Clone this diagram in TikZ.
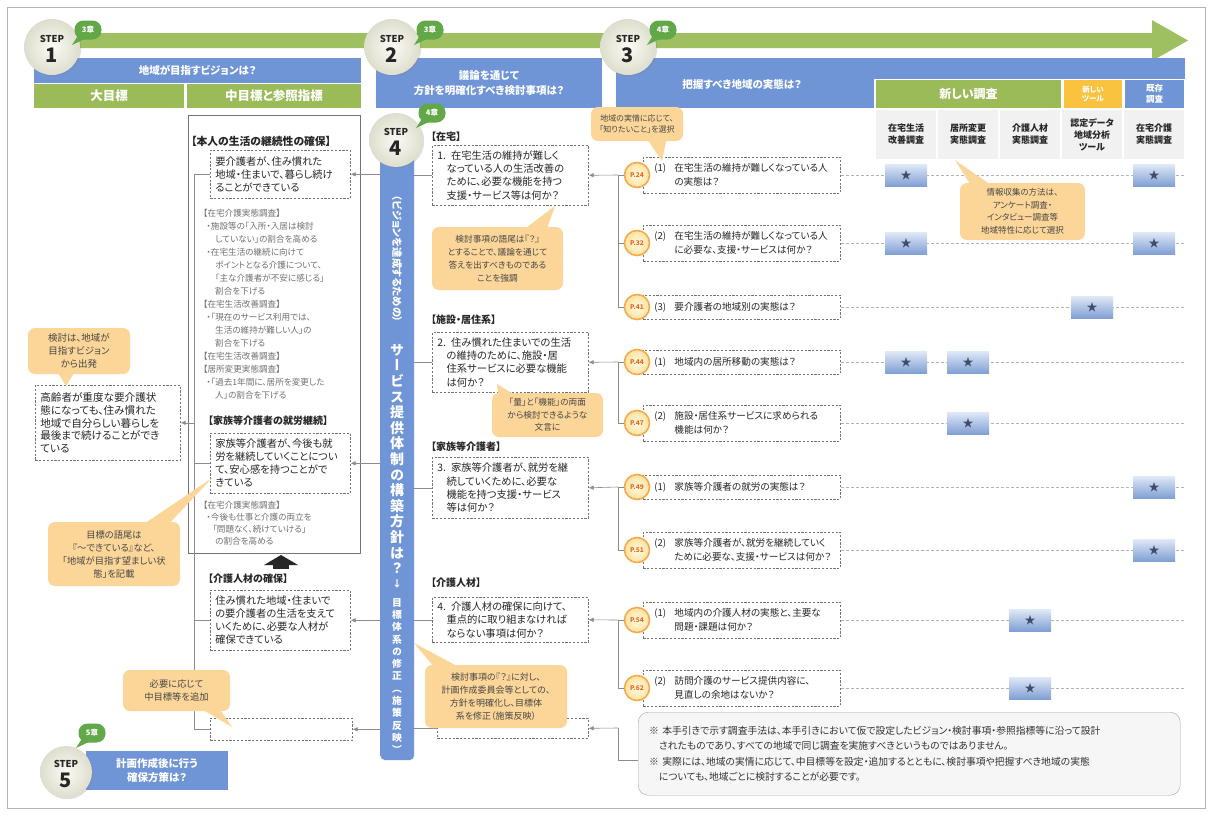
\documentclass[tikz,border=0pt]{standalone}
\usepackage{fontspec}
\setmainfont[RawFeature=+palt]{Noto Sans CJK JP}
\newfontfamily\vertfont[RawFeature=+vert]{Noto Sans CJK JP}
\usetikzlibrary{arrows.meta,shadows}

\definecolor{hdrblue}{RGB}{111,149,214}
\definecolor{hdrgreen}{RGB}{155,187,89}
\definecolor{bandgreen}{RGB}{158,192,96}
\definecolor{tooly}{RGB}{249,195,64}
\definecolor{calloutfill}{RGB}{252,214,152}
\definecolor{framegray}{RGB}{180,180,180}
\definecolor{chapgreen}{RGB}{98,168,72}
\definecolor{stepin}{RGB}{250,250,244}
\definecolor{stepout}{RGB}{222,222,206}
\definecolor{badgeline}{RGB}{246,170,78}
\definecolor{badgein}{RGB}{255,250,225}
\definecolor{badgeout}{RGB}{253,226,160}
\definecolor{badgetext}{RGB}{232,104,34}
\definecolor{startop}{RGB}{224,233,247}
\definecolor{starbot}{RGB}{128,160,212}
\definecolor{stardark}{RGB}{66,76,106}
\definecolor{txtgray}{RGB}{112,112,112}
\definecolor{colgray}{RGB}{241,241,241}
\definecolor{notefill}{RGB}{246,246,246}

% characters stacked one per line (vertical writing)
\makeatletter
\newcommand\vstackchars[2]{\vbox{\baselineskip=#1\relax\lineskiplimit=-100pt\lineskip=0pt
  \@tfor\vs@c:=#2\do{\hbox to 2em{\hss\vs@c\hss}}}}
\makeatother
\newcommand\qnum[1]{\makebox[2.1em][l]{#1}}
\newcommand\qind{\hspace*{2.1em}}

\tikzset{
  pframe/.style={draw=framegray, line width=0.5pt, double=white, double distance=1.8pt},
  bluehdr/.style={fill=hdrblue, text=white, inner sep=0pt, align=center, font=\bfseries\fontsize{10.5}{15}\selectfont},
  greenhdr/.style={fill=hdrgreen, text=white, inner sep=0pt, align=center, font=\bfseries\fontsize{12.5}{15}\selectfont},
  dbox/.style={draw=black!55, dash pattern=on 2.2pt off 1.6pt, line width=0.6pt, fill=white, inner xsep=5pt, inner ysep=0pt, align=left, anchor=north west, text=black!85},
  graytxt/.style={text=txtgray, align=left, anchor=north west, inner sep=0pt, font=\fontsize{8.6}{13}\selectfont},
  ttl/.style={anchor=west, inner sep=0pt, text=black!85, font=\bfseries\fontsize{10}{12}\selectfont},
  callbox/.style={fill=calloutfill, rounded corners=7pt, align=center, inner sep=0pt, text=black!72},
  link/.style={draw=black!45, line width=0.6pt},
  arr/.style={link, -{Latex[length=5pt,width=4.5pt]}},
  stepc/.style={circle, minimum size=#1, inner sep=0pt, inner color=stepin, outer color=stepout,
    drop shadow={opacity=0.25, shadow xshift=1.2pt, shadow yshift=-1.2pt}},
  steptxt/.style={inner sep=0pt, text=black!85, font=\bfseries\fontsize{9.5}{10}\selectfont},
  stepnum/.style={inner sep=0pt, text=black!85, font=\bfseries\fontsize{20}{20}\selectfont},
  chapbub/.style={fill=chapgreen, text=white, rounded corners=9pt, minimum width=27pt, minimum height=19pt, inner sep=0pt, font=\bfseries\fontsize{7.5}{8}\selectfont},
  starbox/.style={minimum width=42pt, minimum height=22pt, inner sep=0pt, top color=startop, bottom color=starbot, text=stardark, font=\fontsize{11}{11}\selectfont},
  badge/.style={circle, minimum size=25pt, inner sep=0pt, draw=badgeline, line width=1.6pt, inner color=badgein, outer color=badgeout, text=badgetext, font=\bfseries\fontsize{6.5}{7}\selectfont},
  rowq/.style={dbox, anchor=west, minimum width=197pt, text width=175pt, inner xsep=11pt, font=\fontsize{9.6}{13.5}\selectfont},
  rowline/.style={draw=black!30, dash pattern=on 3pt off 2pt, line width=0.5pt},
  colh/.style={fill=colgray, draw=white, line width=1.5pt, minimum width=62pt, minimum height=51pt, inner sep=0pt, align=center, text=black!85, font=\bfseries\fontsize{9}{12}\selectfont},
  notebox/.style={fill=notefill, draw=black!35, rounded corners=10pt, anchor=north west, minimum width=542pt, minimum height=83pt, text width=520pt, inner xsep=11pt, align=left, text=black!80, font=\fontsize{9.8}{15.5}\selectfont},
}

\newcommand\stepmark[5]{%
  \node[stepc=#4] (#1) at (#2,#3) {};
  \node[steptxt] (#1t) at (#2,#3-8) {STEP};
  \node[stepnum] (#1n) at (#2,#3+8) {#5};}
\newcommand\chapmark[4]{%
  \fill[chapgreen] (#2-9,#3+4) -- (#2-16,#3+15) -- (#2-1,#3+8) -- cycle;
  \node[chapbub] (#1) at (#2,#3) {#4};}
\newcommand\qrow[6]{%
  \node[rowq, minimum height=#6pt] (#1) at (643,#2) {\qnum{#4}#5};
  \draw[rowline] (#1.east) -- (1185,#2);
  \node[badge] (#1p) at (637,#2) {#3};}

\begin{document}
\begin{tikzpicture}[x=1pt,y=-1pt]
\useasboundingbox (0,0) rectangle (1212,814);
\fill[white] (0,0) rectangle (1212,814);
\draw[framegray, line width=0.8pt] (7,7) rectangle (1205,808);

% ---------- the three panels ----------
\draw[pframe] (29,54) rectangle (366,804);
\draw[pframe] (371,54) rectangle (607,804);
\draw[pframe] (612,54) rectangle (1189,804);

% progress band
\fill[bandgreen] (60,33) -- (1152,33) -- (1152,20) -- (1188,40.5) -- (1152,61) -- (1152,48) -- (60,48) -- cycle;

% ---------- panel 1 : vision ----------
\node[bluehdr, minimum width=327pt, minimum height=25pt] (h1) at (197.5,70.5) {地域が目指すビジョンは？};
\node[greenhdr, minimum width=150pt, minimum height=24pt] (h1a) at (109,96) {大目標};
\node[greenhdr, minimum width=174pt, minimum height=24pt] (h1b) at (274,96) {中目標と参照指標};

\node[draw=black!55, line width=0.7pt, anchor=north west, minimum width=172pt, minimum height=438pt, inner sep=0pt] (midframe) at (188,115) {};

\node[ttl, font=\bfseries\fontsize{10.8}{12}\selectfont] (t1) at (191,141) {【本人の生活の継続性の確保】};
\node[dbox, minimum width=140pt, minimum height=48pt, text width=130pt, font=\fontsize{10.3}{12.8}\selectfont] (g1) at (210,150)
  {要介護者が、住み慣れた\\地域・住まいで、暮らし続け\\ることができている};
\node[graytxt] (ref1) at (203,209) {【在宅介護実態調査】\\
\hspace*{0.4em}・施設等の「入所・入居は検討\\
\hspace*{1.4em}していない」の割合を高める\\
\hspace*{0.4em}・在宅生活の継続に向けて\\
\hspace*{1.4em}ポイントとなる介護について、\\
\hspace*{1.4em}「主な介護者が不安に感じる」\\
\hspace*{1.4em}割合を下げる\\
【在宅生活改善調査】\\
\hspace*{0.4em}・「現在のサービス利用では、\\
\hspace*{1.4em}生活の維持が難しい人」の\\
\hspace*{1.4em}割合を下げる\\
【在宅生活改善調査】\\
【居所変更実態調査】\\
\hspace*{0.4em}・「過去1年間に、居所を変更した\\
\hspace*{1.4em}人」の割合を下げる};

\node[ttl] (t2) at (208,421) {【家族等介護者の就労継続】};
\node[dbox, minimum width=140pt, minimum height=60pt, text width=130pt, font=\fontsize{10.3}{13}\selectfont] (g2) at (210,433)
  {家族等介護者が、今後も就\\労を継続していくことについ\\て、安心感を持つことがで\\きている};
\node[graytxt, font=\fontsize{8.6}{12}\selectfont] (ref2) at (203,501) {【在宅介護実態調査】\\
\hspace*{0.4em}・今後も仕事と介護の両立を\\
\hspace*{1.1em}「問題なく、続けていける」\\
\hspace*{1.4em}の割合を高める};

% block arrow between goals
\fill[black!85] (264,565) -- (281,555) -- (298,565) -- cycle;
\fill[black!85] (273,564) rectangle (289,569);

\node[ttl] (t3) at (208,579) {【介護人材の確保】};
\node[dbox, minimum width=140pt, minimum height=60pt, text width=130pt, font=\fontsize{10.3}{13}\selectfont] (g3) at (210,590)
  {住み慣れた地域・住まいで\\の要介護者の生活を支えて\\いくために、必要な人材が\\確保できている};
\node[dbox, minimum width=142pt, minimum height=22pt] (g4) at (210,718) {};

\node[dbox, minimum width=145pt, minimum height=75pt, text width=135pt, font=\fontsize{10.6}{12.8}\selectfont] (l1) at (35,385)
  {高齢者が重度な要介護状\\態になっても、住み慣れた\\地域で自分らしい暮らしを\\最後まで続けることができ\\ている};

% goal tree
\coordinate (ltTop) at (194,174);
\coordinate (ltBot) at (194,729);
\draw[link] (ltTop) -- (ltBot);
\draw[link] (g1.west -| ltTop) -- (g1.west);
\draw[link] (g2.west -| ltTop) -- (g2.west);
\draw[link] (g3.west -| ltTop) -- (g3.west);
\draw[link] (g4.west -| ltTop) -- (g4.west);
\draw[arr] (ltTop |- l1.east) -- (l1.east);

% step 5
\node[bluehdr, minimum width=142pt, minimum height=39pt, font=\bfseries\fontsize{10.5}{14}\selectfont] (h5) at (157,770.5) {計画作成後に行う\\確保方策は？};

% ---------- panel 2 : issues ----------
\node[bluehdr, minimum width=226pt, minimum height=50pt] (h2) at (489,83) {議論を通じて\\方針を明確化すべき検討事項は？};
\node[fill=hdrblue, rounded corners=5pt, anchor=north west, minimum width=34pt, minimum height=610pt, inner sep=0pt] (bar) at (380,150) {};
\node[text=white, inner sep=0pt, rotate=-90, font=\bfseries\fontsize{10.3}{11}\selectfont] (bart1) at (397,259) {（ビジョンを達成するための）};
\node[text=white, inner sep=0pt, font=\vertfont\bfseries\fontsize{14}{15}\selectfont] (bart2) at (397,459) {\vstackchars{15.6pt}{サービス提供体制の構築方針は？}};
\node[text=white, inner sep=0pt, font=\vertfont\bfseries\fontsize{9.5}{11}\selectfont] (bart3) at (397,584) {↓};
\node[text=white, inner sep=0pt, font=\vertfont\bfseries\fontsize{9.8}{11}\selectfont] (bart4) at (397,676) {\vstackchars{12.3pt}{目標体系の修正（施策反映）}};

\node[ttl] (c1) at (431,137) {【在宅】};
\node[dbox, minimum width=156pt, minimum height=60pt, text width=146pt, font=\fontsize{10.3}{13.3}\selectfont] (q1) at (432,145)
  {1. 在宅生活の維持が難しく\\\hspace*{0.9em}なっている人の生活改善の\\\hspace*{0.9em}ために、必要な機能を持つ\\\hspace*{0.9em}支援・サービス等は何か？};
\node[ttl] (c2) at (431,320) {【施設・居住系】};
\node[dbox, minimum width=156pt, minimum height=60pt, text width=146pt, font=\fontsize{10.3}{13.3}\selectfont] (q2) at (432,332)
  {2. 住み慣れた住まいでの生活\\\hspace*{0.9em}の維持のために、施設・居\\\hspace*{0.9em}住系サービスに必要な機能\\\hspace*{0.9em}は何か？};
\node[ttl] (c3) at (431,447) {【家族等介護者】};
\node[dbox, minimum width=156pt, minimum height=61pt, text width=146pt, font=\fontsize{10.3}{13.3}\selectfont] (q3) at (432,457)
  {3. 家族等介護者が、就労を継\\\hspace*{0.9em}続していくために、必要な\\\hspace*{0.9em}機能を持つ支援・サービス\\\hspace*{0.9em}等は何か？};
\node[ttl] (c4) at (431,583) {【介護人材】};
\node[dbox, minimum width=156pt, minimum height=45pt, text width=146pt, font=\fontsize{10.3}{13.3}\selectfont] (q4) at (432,597)
  {4. 介護人材の確保に向けて、\\\hspace*{0.9em}重点的に取り組まなければ\\\hspace*{0.9em}ならない事項は何か？};
\node[dbox, minimum width=151pt, minimum height=20pt] (q5) at (437,718) {};

% issues -> bar
\foreach \q in {q1,q2,q3,q4,q5} \draw[link] (\q.west) -- (\q.west -| bar.east);
% bar -> goals
\draw[arr] (bar.west |- g1.east) -- (g1.east);
\draw[arr] (bar.west |- g2.east) -- (g2.east);
\draw[arr] (bar.west |- g3.east) -- (g3.east);
\draw[arr] (bar.west |- g4.east) -- (g4.east);

% ---------- panel 3 : facts ----------
\node[fill=hdrblue, minimum width=569pt, minimum height=50pt, inner sep=0pt] (h3) at (900.5,83) {};
\node[text=white, inner sep=0pt, font=\bfseries\fontsize{10.5}{12}\selectfont] (h3t) at (742,84) {把握すべき地域の実態は？};
\node[fill=hdrgreen, draw=white, line width=1.2pt, minimum width=187pt, minimum height=29pt, inner sep=0pt, text=white, font=\bfseries\fontsize{12}{14}\selectfont] (gNew) at (968.5,94) {新しい調査};
\node[fill=tooly, draw=white, line width=1.2pt, minimum width=60pt, minimum height=29pt, inner sep=0pt, align=center, text=white, font=\bfseries\fontsize{7.5}{9}\selectfont] (gTool) at (1093,94) {新しい\\ツール};
\node[fill=hdrblue, draw=white, line width=1.2pt, minimum width=61pt, minimum height=29pt, inner sep=0pt, align=center, text=white, font=\bfseries\fontsize{8.5}{10.5}\selectfont] (gOld) at (1154.5,94) {既存\\調査};

\node[colh] (ch1) at (906,134.5) {在宅生活\\改善調査};
\node[colh] (ch2) at (968,134.5) {居所変更\\実態調査};
\node[colh] (ch3) at (1030,134.5) {介護人材\\実態調査};
\node[colh] (ch4) at (1092,134.5) {認定データ\\地域分析\\ツール};
\node[colh] (ch5) at (1154,134.5) {在宅介護\\実態調査};

\qrow{r1}{175}{P.24}{(1)}{在宅生活の維持が難しくなっている人\\\qind の実態は？}{36}
\qrow{r2}{243}{P.32}{(2)}{在宅生活の維持が難しくなっている人\\\qind に必要な、支援・サービスは何か？}{36}
\qrow{r3}{307}{P.41}{(3)}{要介護者の地域別の実態は？}{24}
\qrow{r4}{362}{P.44}{(1)}{地域内の居所移動の実態は？}{24}
\qrow{r5}{423}{P.47}{(2)}{施設・居住系サービスに求められる\\\qind 機能は何か？}{36}
\qrow{r6}{487}{P.49}{(1)}{家族等介護者の就労の実態は？}{24}
\qrow{r7}{550}{P.51}{(2)}{家族等介護者が、就労を継続していく\\\qind ために必要な、支援・サービスは何か？}{36}
\qrow{r8}{620}{P.54}{(1)}{地域内の介護人材の実態と、主要な\\\qind 問題・課題は何か？}{36}
\qrow{r9}{688}{P.62}{(2)}{訪問介護のサービス提供内容に、\\\qind 見直しの余地はないか？}{36}

% survey marks
\node[starbox] (s1a) at (906,175) {★};
\node[starbox] (s1b) at (1154,175) {★};
\node[starbox] (s2a) at (906,243) {★};
\node[starbox] (s2b) at (1154,243) {★};
\node[starbox] (s3a) at (1092,307) {★};
\node[starbox] (s4a) at (906,362) {★};
\node[starbox] (s4b) at (968,362) {★};
\node[starbox] (s5a) at (968,423) {★};
\node[starbox] (s6a) at (1154,487) {★};
\node[starbox] (s7a) at (1154,550) {★};
\node[starbox] (s8a) at (1030,620) {★};
\node[starbox] (s9a) at (1030,688) {★};

\node[notebox] (nt) at (638,712) {※ 本手引きで示す調査手法は、本手引きにおいて仮で設定したビジョン・検討事項・参照指標等に沿って設計\\
\hspace*{1em}されたものであり、すべての地域で同じ調査を実施すべきというものではありません。\\
※ 実際には、地域の実情に応じて、中目標等を設定・追加するとともに、検討事項や把握すべき地域の実態\\
\hspace*{1em}についても、地域ごとに検討することが必要です。};

% facts tree and links to issues
\coordinate (t1) at (618,175);
\coordinate (t2) at (618,362);
\coordinate (t3) at (618,487);
\coordinate (t4) at (618,620);
\coordinate (t5) at (618,728);
\coordinate (t5b) at (618,760);
\draw[link] (t1) -- (618,307);
\draw[link] (t2) -- (618,423);
\draw[link] (t3) -- (618,550);
\draw[link] (t4) -- (618,688);
\draw[link] (t5) -- (t5b) -- (nt.west |- t5b);
\foreach \r in {r1,r2,r3,r4,r5,r6,r7,r8,r9} \draw[link] (618,0 |- \r p.west) -- (\r p.west);
\draw[arr] (t1) -- (q1.east);
\draw[arr] (t2) -- (q2.east);
\draw[arr] (t3) -- (q3.east);
\draw[arr] (t4) -- (q4.east);
\draw[arr] (t5) -- (q5.east);

% ---------- callouts ----------
\coordinate (cAtip) at (66,386);
\fill[calloutfill] (55,368) -- (cAtip) -- (77,368) -- cycle;
\node[callbox, minimum width=102pt, minimum height=46pt, font=\fontsize{9.5}{13}\selectfont] (cA) at (79,351) {検討は、地域が\\目指すビジョン\\から出発};

\coordinate (cBtip) at (212,478);
\fill[calloutfill] (138,528) -- (cBtip) -- (165,528) -- cycle;
\node[callbox, minimum width=132pt, minimum height=64pt, font=\fontsize{9.3}{13}\selectfont] (cB) at (114,554) {目標の語尾は\\『～できている』など、\\「地域が目指す望ましい状\\態」を記載};

\coordinate (cCtip) at (232,727);
\fill[calloutfill] (193,704) -- (cCtip) -- (216,704) -- cycle;
\node[callbox, minimum width=107pt, minimum height=41pt, font=\fontsize{9.3}{13}\selectfont] (cC) at (176.5,690.5) {必要に応じて\\中目標等を追加};

\coordinate (cDtip) at (555,206);
\fill[calloutfill] (518,234) -- (cDtip) -- (545,234) -- cycle;
\node[callbox, minimum width=131pt, minimum height=63pt, font=\fontsize{8.7}{13}\selectfont] (cD) at (497.5,258.5) {検討事項の語尾は『？』\\とすることで、議論を通じて\\答えを出すべきものである\\ことを強調};

\coordinate (cEtip) at (497,384);
\fill[calloutfill] (499,402) -- (cEtip) -- (526,402) -- cycle;
\node[callbox, minimum width=111pt, minimum height=44pt, font=\fontsize{8.7}{12.5}\selectfont] (cE) at (547.5,415) {「量」と「機能」の両面\\から検討できるような\\文言に};

\coordinate (cFtip) at (414,643);
\fill[calloutfill] (440,674) -- (cFtip) -- (472,674) -- cycle;
\node[callbox, minimum width=142pt, minimum height=63pt, font=\fontsize{9}{13}\selectfont] (cF) at (496,696.5) {検討事項の『？』に対し、\\計画作成委員会等としての、\\方針を明確化し、目標体\\系を修正（施策反映）};

\coordinate (cGtip) at (662,161);
\fill[calloutfill] (645,136) -- (cGtip) -- (667,136) -- cycle;
\node[callbox, minimum width=92pt, minimum height=34pt, font=\fontsize{8}{11.5}\selectfont] (cG) at (637,124) {地域の実情に応じて、\\「知りたいこと」を選択};

\coordinate (cHtip) at (955,160);
\fill[calloutfill] (975,192) -- (cHtip) -- (1001,192) -- cycle;
\node[callbox, minimum width=125pt, minimum height=57pt, font=\fontsize{8.5}{12.5}\selectfont] (cH) at (1022.5,211.5) {情報収集の方法は、\\アンケート調査・\\インタビュー調査等\\地域特性に応じて選択};

% ---------- step markers ----------
\stepmark{st1}{52}{47}{56pt}{1}
\chapmark{ch1b}{88}{30}{3章}
\stepmark{st2}{392}{47}{56pt}{2}
\chapmark{ch2b}{430}{30}{3章}
\stepmark{st3}{628}{47}{56pt}{3}
\chapmark{ch3b}{663}{30}{4章}
\stepmark{st4}{396}{140}{54pt}{4}
\chapmark{ch4b}{432}{113}{4章}
\stepmark{st5}{66}{772}{52pt}{5}
\chapmark{ch5b}{92}{733}{5章}
\end{tikzpicture}
\end{document}
